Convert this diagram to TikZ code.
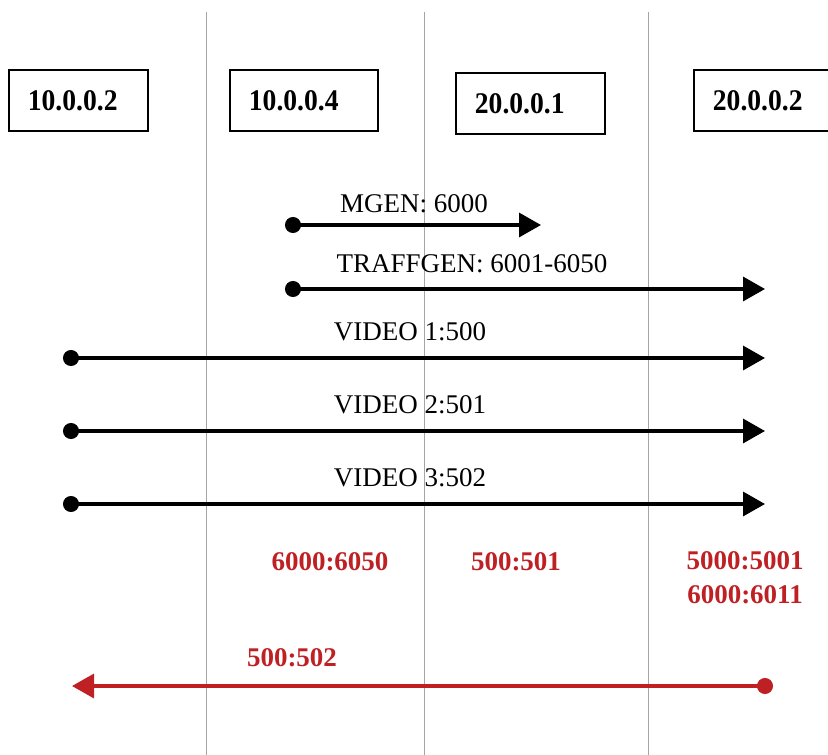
\documentclass[tikz,border=0pt]{standalone}
\usepackage{fontspec}
\setmainfont{Liberation Serif}
\newfontfamily\hostfont{Liberation Serif}[FakeStretch=0.92]
\usetikzlibrary{arrows.meta}
\definecolor{flowred}{RGB}{190,32,36}
\definecolor{lanegray}{RGB}{165,165,165}
\tikzset{
  hostbox/.style={draw, line width=1.8pt, minimum height=61pt, text width=#1,
    inner xsep=19pt, align=left, anchor=north west,
    font=\hostfont\fontsize{30}{32}\selectfont\bfseries},
  lane/.style={lanegray, line width=0.9pt},
  flowlabel/.style={font=\fontsize{27}{30}\selectfont},
  portlabel/.style={text=flowred, font=\fontsize{27}{34}\selectfont\bfseries, align=center},
  flow/.style={line width=3.4pt, {Circle[length=16pt]}-{Triangle[length=22pt,width=24pt]}},
}
\begin{document}
\begin{tikzpicture}[x=1pt,y=-1pt]
\useasboundingbox (0,0) rectangle (828,755);
\clip (0,0) rectangle (828,755);

% lanes separating the hosts
\foreach \lx [count=\i] in {206,424,648} {
  \coordinate (lane\i-top) at (\lx,12);
  \coordinate (lane\i-bot) at (\lx,755);
  \draw[lane] (lane\i-top) -- (lane\i-bot);
}

% hosts
\node[hostbox=101pt] (h1) at (8,69)   {10.0.0.2};
\node[hostbox=110pt] (h2) at (229,69) {10.0.0.4};
\node[hostbox=111pt] (h3) at (455,72) {20.0.0.1};
\node[hostbox=120pt] (h4) at (693,69) {20.0.0.2};

% traffic flows
\coordinate (mgen-s) at (285,225);  \coordinate (mgen-e) at (541,225);
\coordinate (traf-s) at (285,289);  \coordinate (traf-e) at (765,289);
\coordinate (vid1-s) at (63,358);   \coordinate (vid1-e) at (765,358);
\coordinate (vid2-s) at (63,431);   \coordinate (vid2-e) at (765,431);
\coordinate (vid3-s) at (63,504);   \coordinate (vid3-e) at (765,504);
\coordinate (ret-s)  at (773,686);  \coordinate (ret-e)  at (72,686);

\draw[flow] (mgen-s) -- (mgen-e);
\draw[flow] (traf-s) -- (traf-e);
\draw[flow] (vid1-s) -- (vid1-e);
\draw[flow] (vid2-s) -- (vid2-e);
\draw[flow] (vid3-s) -- (vid3-e);
\draw[flow, flowred] (ret-s) -- (ret-e);

% flow labels
\node[flowlabel] (mgen-l) at (414,204) {MGEN: 6000};
\node[flowlabel] (traf-l) at (472,264) {TRAFFGEN: 6001-6050};
\node[flowlabel] (vid1-l) at (410,332) {VIDEO 1:500};
\node[flowlabel] (vid2-l) at (410,405) {VIDEO 2:501};
\node[flowlabel] (vid3-l) at (410,478) {VIDEO 3:502};

% port ranges
\node[portlabel] (p1) at (330,562) {6000:6050};
\node[portlabel] (p2) at (516,562) {500:501};
\node[portlabel] (p3) at (745,578) {5000:5001\\6000:6011};
\node[portlabel] (p4) at (292,658) {500:502};
\end{tikzpicture}
\end{document}
